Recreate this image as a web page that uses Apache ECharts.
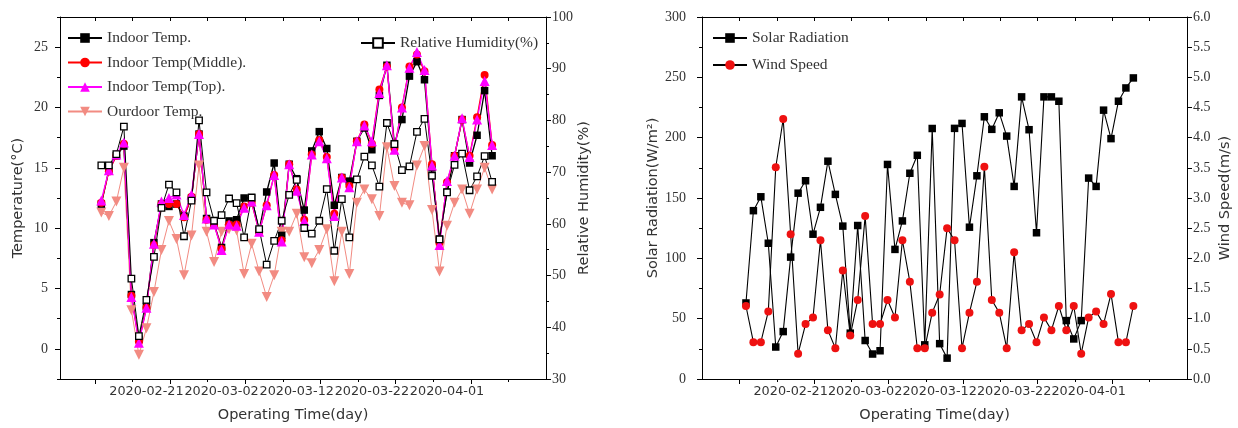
<!DOCTYPE html>
<html><head><meta charset="utf-8">
<script src="https://cdn.jsdelivr.net/npm/echarts@6/dist/echarts.min.js"></script>
<style>html,body{margin:0;padding:0;background:#fff}#c{width:1238px;height:428px}</style>
</head><body><div id="c"></div>
<script>
// ---------------- data ----------------
const dates = [
 '2020-02-15','2020-02-16','2020-02-17','2020-02-18','2020-02-19','2020-02-20','2020-02-21','2020-02-22','2020-02-23','2020-02-24',
 '2020-02-25','2020-02-26','2020-02-27','2020-02-28','2020-02-29','2020-03-01','2020-03-02','2020-03-03','2020-03-04','2020-03-05',
 '2020-03-06','2020-03-07','2020-03-08','2020-03-09','2020-03-10','2020-03-11','2020-03-12','2020-03-13','2020-03-14','2020-03-15',
 '2020-03-16','2020-03-17','2020-03-18','2020-03-19','2020-03-20','2020-03-21','2020-03-22','2020-03-23','2020-03-24','2020-03-25',
 '2020-03-26','2020-03-27','2020-03-28','2020-03-29','2020-03-30','2020-03-31','2020-04-01','2020-04-02','2020-04-03','2020-04-04',
 '2020-04-05','2020-04-06','2020-04-07'];
const tickLabels = ['2020-02-21','2020-03-02','2020-03-12','2020-03-22','2020-04-01'];
const tempTicks = [0, 5, 10, 15, 20, 25];
const humidityTicks = [30, 40, 50, 60, 70, 80, 90, 100];
const solarTicks = [0, 50, 100, 150, 200, 250, 300];
const windTicks = [0, 0.5, 1, 1.5, 2, 2.5, 3, 3.5, 4, 4.5, 5, 5.5, 6];

const indoorTemp = [12.0,14.8,16.0,16.8,4.5,0.8,3.5,8.8,12.0,11.8, 12.0,11.0,12.5,17.8,10.8,10.4,8.4,10.6,10.7,12.5,
 12.5,9.8,13.0,15.4,9.4,15.3,14.1,11.5,16.4,18.0, 16.6,11.9,14.2,13.9,17.2,18.3,16.5,21.0,23.5,17.0,
 19.0,22.6,23.8,22.3,15.0,9.1,13.0,16.0,19.0,15.4, 17.7,21.4,16.0];
const indoorMiddle = [12.1,14.7,16.0,17.0,4.4,0.6,3.4,8.6,12.0,12.0, 12.0,10.9,12.6,17.8,10.7,10.3,8.3,10.3,10.3,11.8,
 12.1,9.7,11.9,14.4,9.0,15.3,13.2,10.7,16.1,17.3, 15.9,11.2,14.2,13.5,17.2,18.6,17.0,21.5,23.4,16.6,
 20.0,23.4,24.4,23.0,15.3,8.8,13.8,16.0,19.0,16.0, 19.2,22.7,16.9];
const indoorTop = [12.3,14.8,16.1,17.1,4.3,0.5,3.4,8.7,12.2,12.5, 12.8,11.1,12.8,17.8,10.8,10.3,8.2,10.3,10.2,11.7,
 12.2,9.7,11.9,14.4,8.9,15.3,13.1,10.6,16.1,17.2, 15.8,11.0,14.2,13.4,17.2,18.5,17.2,21.2,23.5,16.5,
 20.0,23.3,24.6,23.1,15.2,8.6,13.9,16.0,19.1,15.9, 19.0,22.2,16.9];
const outdoorTemp = [11.3,11.0,12.2,15.0,3.2,-0.5,1.7,4.7,8.2,10.6, 9.1,6.1,9.4,15.2,9.7,7.2,9.7,9.9,9.8,6.2,
 8.7,6.4,4.3,6.1,9.7,9.7,11.2,7.6,7.1,8.2, 9.9,5.6,9.7,6.2,12.1,13.2,12.4,11.0,16.7,13.5,
 12.1,11.9,15.2,16.8,11.5,6.4,10.2,12.1,13.2,11.2, 13.2,15.0,13.2];
const humidity = [71.3,71.3,73.5,78.8,49.4,38.3,45.3,53.6,63.1,67.6, 66.1,57.6,64.5,80.0,66.1,60.6,61.7,64.9,64.0,57.4,
 65.1,59.0,52.1,56.7,60.6,65.6,68.5,59.2,58.1,60.6, 66.7,54.8,64.8,57.4,68.6,73.0,71.3,67.2,79.5,75.4,
 70.4,71.1,77.8,80.3,69.3,57.0,66.1,71.4,73.6,66.5, 69.2,73.1,68.1];
const solarRadiation = [63,139.5,151,112.5,26.5,39.3,101,154,164.3,120, 142.3,180.5,153,126.7,38,127.2,31.9,20.7,23.4,177.8,
 107.4,131,170.5,185.4,28.3,207.6,29.3,17.3,207.7,211.8, 125.8,168.4,217.3,206.9,220.6,201.3,159.6,233.8,206.6,121.2,
 233.8,233.8,230.2,48.4,33.2,48.4,166.5,159.6,222.8,199.2, 230.2,241.2,249.5];
const windSpeed = [1.21,0.61,0.61,1.12,3.51,4.31,2.40,0.42,0.91,1.02, 2.30,0.81,0.51,1.80,0.72,1.31,2.70,0.91,0.91,1.31,
 1.02,2.30,1.61,0.51,0.51,1.10,1.40,2.50,2.30,0.51, 1.10,1.61,3.52,1.31,1.10,0.51,2.10,0.81,0.91,0.61,
 1.02,0.81,1.21,0.81,1.21,0.42,1.02,1.12,0.91,1.41, 0.61,0.61,1.21];

// ---------------- chart ----------------
const pts = arr => arr.map((v, i) => [i, v]);
const labelIdx = tickLabels.map(d => dates.indexOf(d));
const majorX = [-0.84, 9.16, 19.16, 29.16, 39.16, 49.16];
const minorX = [4.16, 14.16, 24.16, 34.16, 44.16, 54.16];
const AX = '#000';
const sansName = { fontFamily: 'DejaVu Sans', fontSize: 14.5, color: '#333' };
const serifLbl = { fontFamily: 'Liberation Serif', fontSize: 14, color: '#333' };

function xAxes(grid, min, max, nameShift) {
  return [
    { type: 'value', gridIndex: grid, position: 'bottom', min, max,
      axisLine: { show: true, onZero: false, lineStyle: { color: AX, width: 1 } },
      splitLine: { show: false },
      axisTick: { show: true, inside: false, length: 5, customValues: majorX, lineStyle: { color: AX } },
      axisLabel: { show: true, customValues: labelIdx, margin: 6, fontFamily: 'DejaVu Sans', fontSize: 12.8, color: '#333',
        formatter: v => dates[Math.round(v)] },
      name: 'Operating Time(day)', nameLocation: 'middle', nameGap: 29,
      nameTextStyle: Object.assign({ padding: [0, nameShift, 0, 0] }, sansName) },
    { type: 'value', gridIndex: grid, position: 'bottom', min, max,
      axisLine: { show: false, onZero: false }, splitLine: { show: false }, axisLabel: { show: false },
      axisTick: { show: true, inside: false, length: 3, customValues: minorX, lineStyle: { color: AX } } },
    { type: 'value', gridIndex: grid, position: 'top', min, max,
      axisLine: { show: true, onZero: false, lineStyle: { color: AX, width: 1 } }, splitLine: { show: false }, axisLabel: { show: false },
      axisTick: { show: true, inside: true, length: 4, customValues: majorX.concat(minorX), lineStyle: { color: AX } } }
  ];
}

function yAxis(grid, pos, min, max, ticks, minor, name, nameGap, margin, fmt) {
  const out = [{ type: 'value', gridIndex: grid, position: pos, min, max,
    axisLine: { show: true, onZero: false, lineStyle: { color: AX, width: 1 } }, splitLine: { show: false },
    axisTick: { show: true, inside: false, length: 5, customValues: ticks, lineStyle: { color: AX } },
    axisLabel: Object.assign({ show: true, customValues: ticks, margin, formatter: fmt }, serifLbl),
    name, nameLocation: 'middle', nameGap, nameRotate: 90, nameTextStyle: sansName }];
  if (minor) out.push({ type: 'value', gridIndex: grid, position: pos, min, max,
    axisLine: { show: false, onZero: false }, splitLine: { show: false }, axisLabel: { show: false },
    axisTick: { show: true, inside: false, length: 3, customValues: minor, lineStyle: { color: AX } } });
  return out;
}

const chart = echarts.init(document.getElementById('c'), null, { renderer: 'canvas' });
const grids = [
  { left: 60, right: 1238 - 546, top: 17, bottom: 428 - 381 },
  { left: 702, right: 1238 - 1187, top: 17, bottom: 428 - 381 }
];
const xs = xAxes(0, -5.5, 59.17, 20).concat(xAxes(1, -5.9, 59.2, 20));
const ys = [].concat(
  yAxis(0, 'left', -2.5, 27.5, tempTicks, [-2.5, 2.5, 7.5, 12.5, 17.5, 22.5, 27.5], 'Temperature(°C)', 34, 12, v => String(v)),
  yAxis(0, 'right', 30, 100, humidityTicks, [35, 45, 55, 65, 75, 85, 95], 'Relative Humidity(%)', 31, 6, v => String(v)),
  yAxis(1, 'left', 0, 300, solarTicks, [25, 75, 125, 175, 225, 275], 'Solar Radiation(W/m²)', 37, 16, v => String(v)),
  yAxis(1, 'right', 0, 6, windTicks, null, 'Wind Speed(m/s)', 31, 6, v => v.toFixed(1))
);
// y indices: 0 temp,1 temp minor,2 RH,3 RH minor,4 solar,5 solar minor,6 wind

function line(name, data, xi, yi, color, symbol, size, opts) {
  return Object.assign({ type: 'line', name, data: pts(data), xAxisIndex: xi, yAxisIndex: yi,
    symbol, symbolSize: size, showSymbol: true, animation: false,
    lineStyle: { color, width: 1.3 }, itemStyle: { color, borderColor: color, borderWidth: 0 } }, opts || {});
}

const salmon = '#f28b82';
const series = [
  line('Ourdoor Temp.', outdoorTemp, 0, 0, salmon, 'triangle', 10, { symbolRotate: 180, lineStyle: { color: salmon, width: 1 } }),
  line('Indoor Temp.', indoorTemp, 0, 0, '#000', 'rect', 7.5),
  line('Indoor Temp(Middle).', indoorMiddle, 0, 0, '#ff0000', 'circle', 8),
  line('Indoor Temp(Top).', indoorTop, 0, 0, '#ff00ff', 'triangle', 10),
  line('Relative Humidity(%)', humidity, 0, 2, '#000', 'rect', 6.5,
    { lineStyle: { color: '#000', width: 1 }, itemStyle: { color: '#fff', borderColor: '#000', borderWidth: 1.3 } }),
  line('Solar Radiation', solarRadiation, 3, 4, '#000', 'rect', 7.5, { lineStyle: { color: '#000', width: 1.1 } }),
  line('Wind Speed', windSpeed, 3, 6, '#000', 'circle', 8,
    { lineStyle: { color: '#000', width: 1.1 }, itemStyle: { color: '#ee1111', borderWidth: 0 } })
];

const legText = { fontFamily: 'Liberation Serif', fontSize: 15.5, color: '#333' };
chart.setOption({
  animation: false,
  backgroundColor: '#fff',
  grid: grids,
  xAxis: xs,
  yAxis: ys,
  legend: [
    { left: 67, top: 30, padding: 0, orient: 'vertical', itemWidth: 34, itemHeight: 12, itemGap: 8.5, textStyle: legText,
      data: ['Indoor Temp.', 'Indoor Temp(Middle).', 'Indoor Temp(Top).', 'Ourdoor Temp.'] },
    { left: 360, top: 35, padding: 0, orient: 'vertical', itemWidth: 34, itemHeight: 12, textStyle: legText,
      data: ['Relative Humidity(%)'] },
    { left: 712, top: 30, padding: 0, orient: 'vertical', itemWidth: 34, itemHeight: 12, itemGap: 11, textStyle: legText,
      data: ['Solar Radiation', 'Wind Speed'] }
  ],
  series
});
</script>
</body></html>
